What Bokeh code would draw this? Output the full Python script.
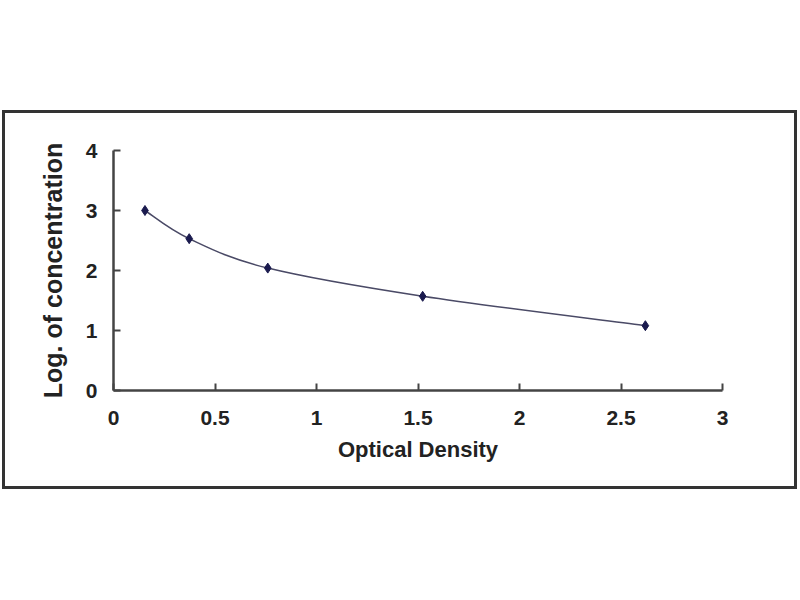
import numpy as np

from bokeh.plotting import figure
from bokeh.layouts import column, row
from bokeh.models import Spacer, FixedTicker
from bokeh.embed import file_html
from bokeh.resources import INLINE

# standard curve: optical density vs log of concentration
optical_density = [0.155, 0.373, 0.76, 1.523, 2.62]
log_conc = [3.0, 2.53, 2.04, 1.57, 1.08]

x_ticks = [0, 0.5, 1, 1.5, 2, 2.5, 3]
x_tick_labels = ["0", "0.5", "1", "1.5", "2", "2.5", "3"]
y_ticks = [0, 1, 2, 3, 4]
y_tick_labels = ["0", "1", "2", "3", "4"]

font = "Liberation Sans"
ink = "#222222"

p = figure(width=795, height=379, x_range=(0, 3), y_range=(0, 4),
           output_backend="svg", toolbar_location=None,
           min_border_left=108, min_border_right=78,
           min_border_top=37, min_border_bottom=102,
           outline_line_color=None, background_fill_color="white")
p.styles = {"border": "3px solid #333333"}

p.xgrid.grid_line_color = None
p.ygrid.grid_line_color = None

for ax, ticks, labels in ((p.xaxis[0], x_ticks, x_tick_labels),
                          (p.yaxis[0], y_ticks, y_tick_labels)):
    ax.ticker = FixedTicker(ticks=ticks)
    ax.major_label_overrides = dict(zip(ticks, labels))
    ax.minor_tick_line_color = None
    ax.major_tick_in = 7
    ax.major_tick_out = 0
    ax.axis_line_width = 2.5
    ax.axis_line_color = "#444444"
    ax.major_tick_line_width = 2
    ax.major_tick_line_color = "#444444"
    ax.major_label_text_font = font
    ax.major_label_text_font_style = "bold"
    ax.major_label_text_font_size = "21px"
    ax.major_label_text_color = ink
    ax.axis_label_text_font = font
    ax.axis_label_text_font_style = "bold"
    ax.axis_label_text_color = ink

p.xaxis.axis_label = "Optical Density"
p.xaxis.axis_label_text_font_size = "22px"
p.xaxis.major_label_standoff = 20
p.xaxis.axis_label_standoff = 9
p.yaxis.axis_label = "Log. of concentration"
p.yaxis.axis_label_text_font_size = "25px"
p.yaxis.major_label_standoff = 16
p.yaxis.axis_label_standoff = 16

# smoothed line through the points (Catmull-Rom as Bezier segments)
xs = np.array(optical_density)
ys = np.array(log_conc)
px = np.concatenate([[xs[0]], xs, [xs[-1]]])
py = np.concatenate([[ys[0]], ys, [ys[-1]]])
n = len(xs) - 1
i = np.arange(n) + 1
p.bezier(x0=px[i], y0=py[i], x1=px[i + 1], y1=py[i + 1],
         cx0=px[i] + (px[i + 1] - px[i - 1]) / 6,
         cy0=py[i] + (py[i + 1] - py[i - 1]) / 6,
         cx1=px[i + 1] - (px[i + 2] - px[i]) / 6,
         cy1=py[i + 1] - (py[i + 2] - py[i]) / 6,
         line_color="#4a4a66", line_width=1.5)

p.scatter(optical_density, log_conc, marker="diamond", size=10,
          fill_color="#1a1a4e", line_color="#1a1a4e")

layout = column(Spacer(height=110), row(Spacer(width=2), p))
open("out.html", "w").write(file_html(layout, INLINE))
